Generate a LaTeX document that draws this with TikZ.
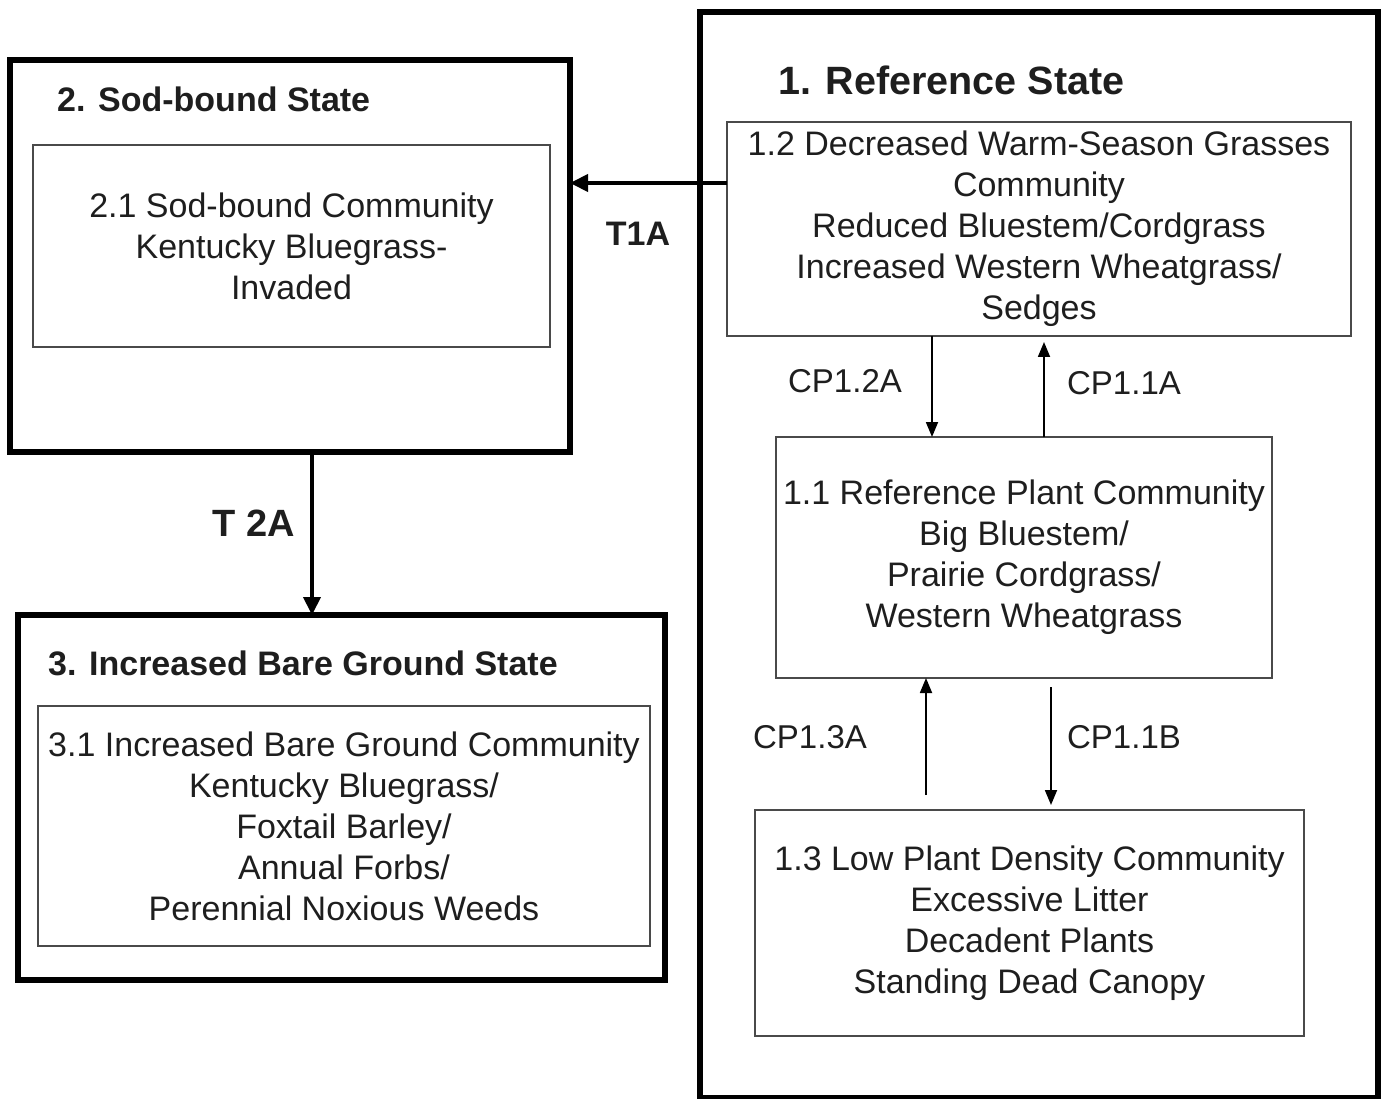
\documentclass[tikz,border=0pt]{standalone}
\usepackage{fontspec}
\setmainfont{Liberation Sans}
\usetikzlibrary{arrows.meta}
\definecolor{txt}{HTML}{1E1E1E}
\definecolor{inner}{HTML}{4A4A4A}
\tikzset{
  statebox/.style={draw=black, line width=6pt, minimum width=#1, inner sep=0pt, outer sep=0pt},
  commbox/.style={draw=inner, line width=1.6pt, inner sep=0pt, outer sep=0pt, align=center, text=txt,
    font=\fontsize{34}{41}\selectfont},
  title/.style={anchor=west, inner sep=0pt, text=txt, font=\bfseries\fontsize{34}{40}\selectfont},
  cplabel/.style={inner sep=0pt, text=txt, font=\fontsize{33}{40}\selectfont},
  tlabel/.style={inner sep=0pt, text=txt, font=\bfseries\fontsize{34}{40}\selectfont},
  tarrow/.style={line width=4pt, -{Triangle[length=18pt,width=17pt]}},
  cparrow/.style={line width=1.8pt, -{Triangle[length=15pt,width=12pt]}}
}
\begin{document}
\begin{tikzpicture}[x=1pt,y=-1pt]
\useasboundingbox (0,0) rectangle (1385,1099);
% state boxes
\node[statebox=678pt, minimum height=1086pt] (s1) at (1039,555) {};
\node[statebox=560pt, minimum height=392pt] (s2) at (290,256) {};
\node[statebox=647pt, minimum height=365pt] (s3) at (341.5,797.5) {};
% titles
\node[title, font=\bfseries\fontsize{39.5}{44}\selectfont] (t1) at (778,80) {1. Reference State};
\node[title] (t2) at (57,99) {2. Sod-bound State};
\node[title] (t3) at (48,663) {3. Increased Bare Ground State};
% communities
\node[commbox, minimum width=517pt, minimum height=202pt] (c21) at (291.5,246)
  {2.1 Sod-bound Community\\Kentucky Bluegrass-\\Invaded};
\node[commbox, minimum width=612pt, minimum height=240pt] (c31) at (344,826)
  {3.1 Increased Bare Ground Community\\Kentucky Bluegrass/\\Foxtail Barley/\\Annual Forbs/\\Perennial Noxious Weeds};
\node[commbox, minimum width=624pt, minimum height=214pt] (c12) at (1039,229)
  {1.2 Decreased Warm-Season Grasses\\Community\\Reduced Bluestem/Cordgrass\\Increased Western Wheatgrass/\\Sedges};
\node[commbox, minimum width=496pt, minimum height=241pt] (c11) at (1024,557.5)
  {1.1 Reference Plant Community\\Big Bluestem/\\Prairie Cordgrass/\\Western Wheatgrass};
\node[commbox, minimum width=549pt, minimum height=226pt] (c13) at (1029.5,923)
  {1.3 Low Plant Density Community\\Excessive Litter\\Decadent Plants\\Standing Dead Canopy};
% helper coordinates
\coordinate (yT1) at (0,183);
\coordinate (xT2) at (312,0);
\coordinate (x12a) at (932,0);
\coordinate (x11a) at (1044,0);
\coordinate (x13a) at (926,0);
\coordinate (x11b) at (1051,0);
% transitions
\draw[tarrow] (c12.west |- yT1) -- (s2.east |- yT1);
\draw[tarrow] (s2.south -| xT2) -- (s3.north -| xT2);
% community pathways
\draw[cparrow] (c12.south -| x12a) -- (c11.north -| x12a);
\draw[cparrow, shorten >=6pt] (c11.north -| x11a) -- (c12.south -| x11a);
\draw[cparrow, shorten <=15pt] (c13.north -| x13a) -- (c11.south -| x13a);
\draw[cparrow, shorten <=9pt, shorten >=5pt] (c11.south -| x11b) -- (c13.north -| x11b);
% labels
\node[tlabel] (lT1) at (638,234) {T1A};
\node[tlabel, font=\bfseries\fontsize{38}{40}\selectfont] (lT2) at (254,523) {T 2A};
\node[cplabel] (l12a) at (845,381) {CP1.2A};
\node[cplabel] (l11a) at (1124,383) {CP1.1A};
\node[cplabel] (l13a) at (810,737) {CP1.3A};
\node[cplabel] (l11b) at (1124,737) {CP1.1B};
\end{tikzpicture}
\end{document}
